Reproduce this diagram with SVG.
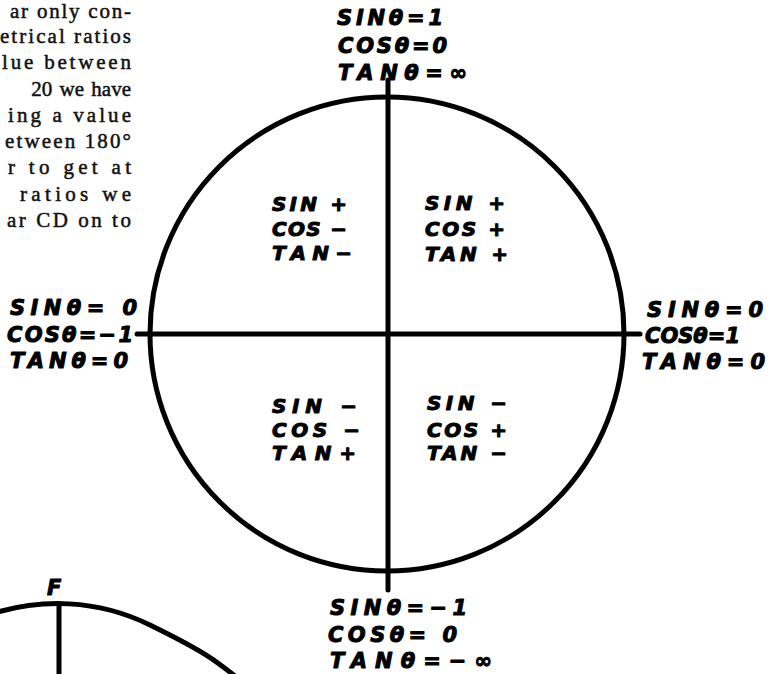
<svg xmlns="http://www.w3.org/2000/svg" width="777" height="674" viewBox="0 0 777 674">
<style>
.ln{fill:none;stroke:#000;stroke-width:5;stroke-linecap:round}
.lb{font-family:"DejaVu Sans","Liberation Sans",Arial,sans-serif;font-weight:bold;font-style:italic;font-size:21px;fill:#000;stroke:#000;stroke-width:1;stroke-linejoin:round}
.q{font-family:"DejaVu Sans","Liberation Sans",Arial,sans-serif;font-weight:bold;font-style:italic;font-size:20px;fill:#000;stroke:#000;stroke-width:1;stroke-linejoin:round}
.body{font-family:"Liberation Serif","DejaVu Serif",serif;font-size:21px;fill:#111;stroke:#111;stroke-width:0.5}
</style>
<rect width="777" height="674" fill="#fff"/>
<g id="body-text" class="body">
<text x="10" y="18" textLength="121" lengthAdjust="spacing">ar only con-</text>
<text x="0" y="43" textLength="131" lengthAdjust="spacing">etrical ratios</text>
<text x="2" y="69" textLength="129" lengthAdjust="spacing">lue between</text>
<text x="131" y="96" text-anchor="end" word-spacing="2">20 we have</text>
<text x="8" y="122" textLength="123" lengthAdjust="spacing">ing a value</text>
<text x="5" y="148" textLength="126" lengthAdjust="spacing">etween 180°</text>
<text x="8" y="174" textLength="123" lengthAdjust="spacing">r to get at</text>
<text x="20" y="201" textLength="111" lengthAdjust="spacing">ratios we</text>
<text x="7" y="227" textLength="124" lengthAdjust="spacing">ar CD on to</text>
</g>
<g id="circle">
<circle class="ln" cx="387" cy="334" r="237"/>
</g>
<g id="connectors">
<line class="ln" x1="388" y1="80" x2="388" y2="590"/>
<line class="ln" x1="137" y1="334" x2="640" y2="334"/>
</g>
<g id="label-top" class="lb">
<text x="337" y="25" textLength="106" lengthAdjust="spacing">SINθ=1</text>
<text x="338" y="53" textLength="109" lengthAdjust="spacing">COSθ=0</text>
<text x="338" y="80" textLength="129" lengthAdjust="spacing">TANθ=∞</text>
</g>
<g id="label-left" class="lb">
<text x="10" y="315" textLength="127" lengthAdjust="spacing">SINθ= 0</text>
<text x="7" y="342" textLength="126" lengthAdjust="spacing">COSθ=−1</text>
<text x="10" y="368" textLength="118" lengthAdjust="spacing">TANθ=0</text>
</g>
<g id="label-right" class="lb">
<text x="647" y="317" textLength="116" lengthAdjust="spacing">SINθ=0</text>
<text x="645" y="343" textLength="95" lengthAdjust="spacing">COSθ=1</text>
<text x="642" y="369" textLength="123" lengthAdjust="spacing">TANθ=0</text>
</g>
<g id="label-bottom" class="lb">
<text x="330" y="615" textLength="137" lengthAdjust="spacing">SINθ=−1</text>
<text x="328" y="642" textLength="129" lengthAdjust="spacing">COSθ= 0</text>
<text x="330" y="668" textLength="162" lengthAdjust="spacing">TANθ=−∞</text>
</g>
<g id="quadrant-2" class="q">
<text x="272" y="211" textLength="75" lengthAdjust="spacing">SIN +</text>
<text x="272" y="236" textLength="75" lengthAdjust="spacing">COS −</text>
<text x="272" y="260" textLength="80" lengthAdjust="spacing">TAN−</text>
</g>
<g id="quadrant-1" class="q">
<text x="425" y="210" textLength="80" lengthAdjust="spacing">SIN +</text>
<text x="425" y="236" textLength="80" lengthAdjust="spacing">COS +</text>
<text x="425" y="261" textLength="83" lengthAdjust="spacing">TAN +</text>
</g>
<g id="quadrant-3" class="q">
<text x="272" y="413" textLength="85" lengthAdjust="spacing">SIN −</text>
<text x="272" y="437" textLength="88" lengthAdjust="spacing">COS −</text>
<text x="272" y="460" textLength="84" lengthAdjust="spacing">TAN+</text>
</g>
<g id="quadrant-4" class="q">
<text x="427" y="410" textLength="80" lengthAdjust="spacing">SIN −</text>
<text x="427" y="437" textLength="80" lengthAdjust="spacing">COS +</text>
<text x="427" y="460" textLength="80" lengthAdjust="spacing">TAN −</text>
</g>
<g id="figure-F">
<path class="ln" d="M -2 612 C 40 600, 95 598, 150 625 S 215 660, 240 680"/>
<line class="ln" x1="59" y1="605" x2="59" y2="676"/>
<text x="47" y="595" class="lb">F</text>
</g>
</svg>
